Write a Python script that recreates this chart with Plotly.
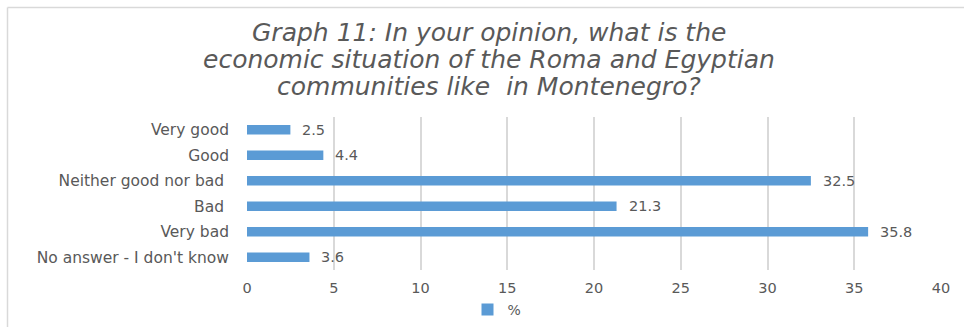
import plotly.graph_objects as go

# Survey answers (top to bottom) and their shares in percent
categories = ["Very good", "Good", "Neither good nor bad ", "Bad ", "Very bad", "No answer - I don't know"]
values = [2.5, 4.4, 32.5, 21.3, 35.8, 3.6]
series_name = "%"
title_lines = [
    "Graph 11: In your opinion, what is the",
    "economic situation of the Roma and Egyptian",
    "communities like  in Montenegro?",
]
x_ticks = [0, 5, 10, 15, 20, 25, 30, 35, 40]

BAR = "#5B9BD5"
TEXT = "#595959"
GRID = "#D9D9D9"
FONT = "DejaVu Sans"

W, H = 964, 327
L, R, T, B = 247, 23, 117, 57
pw, ph = W - L - R, H - T - B


def px_x(x):
    return (x - L) / pw


def px_y(y):
    return (H - B - y) / ph


fig = go.Figure()
fig.add_trace(go.Bar(
    y=categories,
    x=values,
    orientation="h",
    name=series_name,
    marker=dict(color=BAR, line=dict(width=0)),
    showlegend=True,
))

# value labels beside each bar
for c, v in zip(categories, values):
    fig.add_annotation(
        x=v, y=c, xref="x", yref="y", text=f"{v}", showarrow=False,
        xanchor="left", xshift=10, yshift=0,
        font=dict(family=FONT, size=14.5, color=TEXT),
    )

# title, one annotation per line for tight line spacing
for i, line in enumerate(title_lines):
    fig.add_annotation(
        x=px_x(489), y=px_y(32 + 27 * i), xref="paper", yref="paper",
        text=f"<i>{line}</i>", showarrow=False, xanchor="center", yanchor="middle",
        font=dict(family=FONT, size=25, color=TEXT),
    )

# chart frame (left and top edges)
fig.add_shape(type="line", xref="paper", yref="paper",
              x0=px_x(7.5), x1=px_x(7.5), y0=px_y(7.5), y1=px_y(330),
              line=dict(color="#D9D9D9", width=1.5))
fig.add_shape(type="line", xref="paper", yref="paper",
              x0=px_x(7.5), x1=px_x(970), y0=px_y(7.5), y1=px_y(7.5),
              line=dict(color="#D9D9D9", width=1.5))

fig.update_layout(
    width=W, height=H,
    margin=dict(l=L, r=R, t=T, b=B, autoexpand=False),
    paper_bgcolor="white", plot_bgcolor="white",
    bargap=0.62,
    font=dict(family=FONT, size=14, color=TEXT),
    legend=dict(orientation="h", x=px_x(497), xanchor="center",
                y=px_y(310), yanchor="middle",
                font=dict(family=FONT, size=14, color=TEXT),
                itemwidth=30),
    xaxis=dict(range=[0, 40], tickvals=x_ticks, showgrid=True, gridcolor=GRID,
               gridwidth=2, zeroline=False, showline=False, ticks="",
               tickfont=dict(family=FONT, size=14.5, color=TEXT), ticklabelstandoff=7),
    yaxis=dict(autorange="reversed", showgrid=False, zeroline=False, showline=False,
               ticks="", tickfont=dict(family=FONT, size=15.5, color=TEXT),
               ticklabelstandoff=17),
)

fig.write_html("out.html")
